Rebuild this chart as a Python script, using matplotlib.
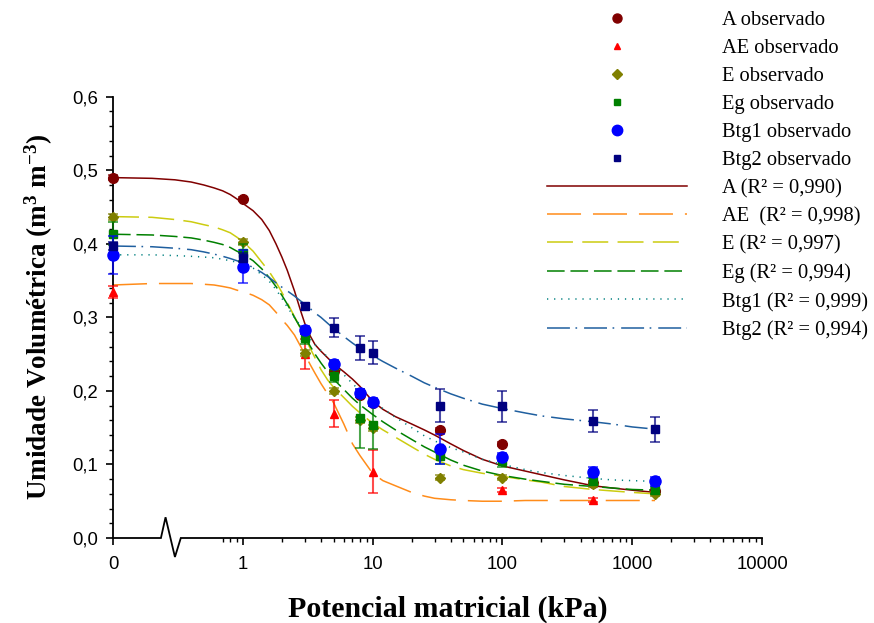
import numpy as np
import matplotlib
matplotlib.use('Agg')
import matplotlib.pyplot as plt
from matplotlib.lines import Line2D
from matplotlib.ticker import FixedLocator, FixedFormatter, MultipleLocator, FuncFormatter, NullFormatter
import matplotlib.transforms as mtransforms

plt.rcParams['lines.scale_dashes'] = False
plt.rcParams['mathtext.fontset'] = 'custom'
plt.rcParams['mathtext.rm'] = 'Liberation Serif'
plt.rcParams['mathtext.bf'] = 'Liberation Serif:bold'
plt.rcParams['mathtext.it'] = 'Liberation Serif:italic'

# ---------------- data ----------------
suction = [0, 1, 3, 5, 8, 10, 33, 100, 500, 1500]          # kPa
nan = np.nan
obs_A    = [0.490, 0.461, 0.281, 0.227, 0.195, 0.183, 0.147, 0.128, 0.075, 0.064]
obs_AE   = [0.334, nan,   0.250, 0.169, nan,   0.090, nan,   0.065, 0.052, nan]
obs_E    = [0.437, 0.403, 0.252, 0.200, 0.160, 0.150, 0.082, 0.082, 0.073, 0.060]
obs_Eg   = [0.414, 0.388, 0.272, 0.220, 0.163, 0.153, 0.111, 0.105, 0.077, 0.065]
obs_Btg1 = [0.385, 0.369, 0.283, 0.237, 0.197, 0.185, 0.121, 0.110, 0.090, 0.077]
obs_Btg2 = [0.397, 0.381, 0.315, 0.286, 0.258, 0.252, 0.180, 0.179, 0.159, 0.148]

err_A    = [0.003, 0.003, 0.003, 0.005, 0.003, 0.003, 0.003, 0.003, 0.003, 0.003]
err_AE   = [0.008, nan,   0.020, 0.018, nan,   0.029, nan,   0.003, 0.003, nan]
err_E    = [0.004, 0.004, 0.004, 0.004, 0.004, 0.004, 0.003, 0.003, 0.003, 0.003]
err_Eg   = [0.015, 0.012, 0.008, 0.008, 0.040, 0.032, 0.010, 0.008, 0.005, 0.005]
err_Btg1 = [0.026, 0.022, 0.005, 0.005, 0.005, 0.005, 0.021, 0.005, 0.007, 0.006]
err_Btg2 = [0.005, 0.006, 0.005, 0.013, 0.016, 0.016, 0.022, 0.021, 0.015, 0.017]

# fitted curves, values
curve_x  = [0, 0.2, 0.3, 0.4, 0.5, 0.6, 0.7, 0.8, 0.9, 1, 1.2, 1.4, 1.6, 1.8, 2, 2.2, 2.5, 2.8,
            3, 3.3, 3.6, 4, 4.5, 5, 6, 7, 8, 10, 12, 15, 20, 25, 30, 40, 50, 70, 100, 150,
            200, 300, 500, 700, 1000, 1500]
fit_A    = [0.490, 0.489, 0.487, 0.484, 0.480, 0.476, 0.472, 0.467, 0.461, 0.455, 0.445, 0.433,
            0.418, 0.400, 0.382, 0.364, 0.336, 0.308, 0.292, 0.275, 0.263, 0.254, 0.245, 0.237,
            0.226, 0.216, 0.206, 0.186, 0.175, 0.165, 0.155, 0.147, 0.140, 0.128, 0.119, 0.107,
            0.098, 0.091, 0.086, 0.079, 0.071, 0.068, 0.065, 0.062]
fit_AE   = [0.344, 0.346, 0.346, 0.346, 0.345, 0.344, 0.342, 0.340, 0.337, 0.335, 0.330, 0.324,
            0.317, 0.307, 0.297, 0.289, 0.276, 0.260, 0.250, 0.236, 0.224, 0.210, 0.196, 0.184,
            0.155, 0.128, 0.112, 0.088, 0.078, 0.071, 0.062, 0.057, 0.054, 0.052, 0.051, 0.050,
            0.050, 0.051, 0.051, 0.051, 0.051, 0.051, 0.051, 0.051]
fit_E    = [0.437, 0.436, 0.433, 0.430, 0.426, 0.423, 0.419, 0.415, 0.409, 0.403, 0.390, 0.375,
            0.362, 0.348, 0.334, 0.320, 0.301, 0.284, 0.273, 0.258, 0.245, 0.229, 0.215, 0.205,
            0.191, 0.179, 0.170, 0.156, 0.147, 0.137, 0.124, 0.114, 0.107, 0.098, 0.093, 0.088,
            0.084, 0.079, 0.076, 0.070, 0.066, 0.064, 0.062, 0.060]
fit_Eg   = [0.413, 0.412, 0.410, 0.408, 0.405, 0.402, 0.399, 0.395, 0.390, 0.386, 0.377, 0.366,
            0.354, 0.342, 0.330, 0.318, 0.300, 0.285, 0.275, 0.261, 0.250, 0.238, 0.226, 0.216,
            0.202, 0.190, 0.181, 0.168, 0.158, 0.147, 0.134, 0.124, 0.117, 0.106, 0.099, 0.091,
            0.085, 0.080, 0.077, 0.073, 0.070, 0.068, 0.066, 0.065]
fit_Btg1 = [0.385, 0.385, 0.384, 0.383, 0.382, 0.381, 0.379, 0.377, 0.375, 0.373, 0.367, 0.358,
            0.349, 0.338, 0.326, 0.314, 0.300, 0.288, 0.281, 0.271, 0.263, 0.255, 0.246, 0.237,
            0.222, 0.210, 0.200, 0.186, 0.176, 0.164, 0.150, 0.139, 0.132, 0.123, 0.117, 0.107,
            0.100, 0.093, 0.089, 0.085, 0.081, 0.079, 0.078, 0.077]
fit_Btg2 = [0.397, 0.396, 0.394, 0.392, 0.389, 0.386, 0.383, 0.380, 0.377, 0.374, 0.368, 0.361,
            0.354, 0.347, 0.341, 0.336, 0.329, 0.322, 0.318, 0.312, 0.306, 0.300, 0.292, 0.285,
            0.274, 0.265, 0.258, 0.248, 0.240, 0.231, 0.220, 0.211, 0.205, 0.196, 0.190, 0.182,
            0.176, 0.170, 0.166, 0.162, 0.158, 0.155, 0.151, 0.148]

fit_labels = ['A (R² = 0,990)', 'AE  (R² = 0,998)', 'E (R² = 0,997)',
              'Eg (R² = 0,994)', 'Btg1 (R² = 0,999)', 'Btg2 (R² = 0,994)']
obs_labels = ['A observado', 'AE observado', 'E observado', 'Eg observado',
              'Btg1 observado', 'Btg2 observado']
x_tick_labels = ['0', '1', '10', '100', '1000', '10000']

# ---------------- style ----------------
ZERO_POS = 0.1
def xpos(vals):
    return [ZERO_POS if v == 0 else v for v in vals]

marker_styles = [
    dict(marker='o', color='#800000', ms=7.0, lms=6.5),
    dict(marker='^', color='#FF0000', ms=5.5, lms=5.0),
    dict(marker='D', color='#808000', ms=5.5, lms=5.0),
    dict(marker='s', color='#008000', ms=6.0, lms=5.0),
    dict(marker='o', color='#0000FF', ms=8.0, lms=7.5),
    dict(marker='s', color='#000080', ms=6.0, lms=5.0),
]
line_styles = [
    dict(color='#800000', ls='-'),
    dict(color='#FF8C1A', ls=(0, (24.5, 8.6))),
    dict(color='#CCCC10', ls=(0, (18.7, 6.7))),
    dict(color='#008000', ls=(0, (12.7, 4.2))),
    dict(color='#008080', ls=(0, (0.9, 4.2))),
    dict(color='#1F5F9F', ls=(0, (16.5, 4.0, 1.2, 5.0))),
]

fig = plt.figure(figsize=(8.74, 6.23), dpi=100)
ax = fig.add_axes([113/874, 1-538/623, (762-113)/874, (538-96.7)/623])

obs_all = [obs_A, obs_AE, obs_E, obs_Eg, obs_Btg1, obs_Btg2]
err_all = [err_A, err_AE, err_E, err_Eg, err_Btg1, err_Btg2]
fit_all = [fit_A, fit_AE, fit_E, fit_Eg, fit_Btg1, fit_Btg2]

for i, fit in enumerate(fit_all):
    ax.plot(xpos(curve_x), fit, lw=1.1, color=line_styles[i]['color'],
            linestyle=line_styles[i]['ls'], zorder=2, clip_on=False)

for i, (obs, err) in enumerate(zip(obs_all, err_all)):
    st = marker_styles[i]
    cont = ax.errorbar(xpos(suction), obs, yerr=err, fmt=st['marker'], ms=st['ms'],
                       color=st['color'], mec=st['color'], ecolor=st['color'],
                       elinewidth=1.5, capsize=3.5, capthick=1.3, zorder=3 + i)
    for c in cont.get_children():
        c.set_clip_on(False)
    for bar in cont[2]:
        bar.set_alpha(0.7)
    for cap in cont[1]:
        cap.set_alpha(0.7)

ax.set_xscale('log')
ax.set_xlim(0.1, 10000)
ax.set_ylim(0, 0.6)

ax.xaxis.set_major_locator(FixedLocator([0.1, 1, 10, 100, 1000, 10000]))
ax.xaxis.set_major_formatter(FixedFormatter(x_tick_labels))
minor = [0.7, 0.8, 0.9] + [k * 10.0**e for e in range(0, 4) for k in range(2, 10)]
ax.xaxis.set_minor_locator(FixedLocator(minor))
ax.xaxis.set_minor_formatter(NullFormatter())

ax.yaxis.set_major_locator(MultipleLocator(0.1))
ax.yaxis.set_minor_locator(MultipleLocator(0.02))
ax.yaxis.set_major_formatter(FuncFormatter(lambda v, p: f'{v:.1f}'.replace('.', ',')))

for s in ['top', 'right', 'bottom']:
    ax.spines[s].set_visible(False)
ax.spines['left'].set_linewidth(1.3)

ax.tick_params(axis='both', which='major', direction='out', length=5, width=1.2,
               labelsize=13.3, pad=6)
ax.tick_params(axis='both', which='minor', direction='out', length=3, width=1.0)
ax.tick_params(axis='x', which='major', pad=8)
for lab in ax.get_xticklabels() + ax.get_yticklabels():
    lab.set_fontfamily('Liberation Sans')

# bottom axis with break
trans = mtransforms.blended_transform_factory(ax.transData, ax.transAxes)
ax.plot([0.1, 0.234, 0.254, 0.300, 0.333, 10000], [0, 0, 0.047, -0.043, 0, 0],
        color='black', lw=1.3, transform=trans, clip_on=False, zorder=10,
        solid_joinstyle='miter')

ax.set_xlabel('Potencial matricial (kPa)', fontsize=21.5, fontweight='bold',
              family='Liberation Serif', va='top')
ax.xaxis.set_label_coords((447.5-113)/649, -0.130)
ax.set_ylabel(r'Umidade Volumétrica (m$^{\mathbf{3}}$ m$^{\mathbf{-3}}$)', fontsize=19.5,
              fontweight='bold', family='Liberation Serif')
ax.yaxis.set_label_coords(-0.090, 0.5)

# legend
handles = []
for st in marker_styles:
    handles.append(Line2D([], [], linestyle='none', marker=st['marker'],
                          ms=st['lms'], color=st['color']))
for st in line_styles:
    handles.append(Line2D([], [], lw=1.1, color=st['color'], linestyle=st['ls']))
leg = fig.legend(handles, obs_labels + fit_labels, loc='upper left',
                 bbox_to_anchor=(547/874, 1 - 10.6/623), frameon=False,
                 prop={'family': 'Liberation Serif', 'size': 14.8},
                 handlelength=6.81, handletextpad=1.70, labelspacing=0.423,
                 borderpad=0, borderaxespad=0)

fig.savefig('out.png', dpi=100)
